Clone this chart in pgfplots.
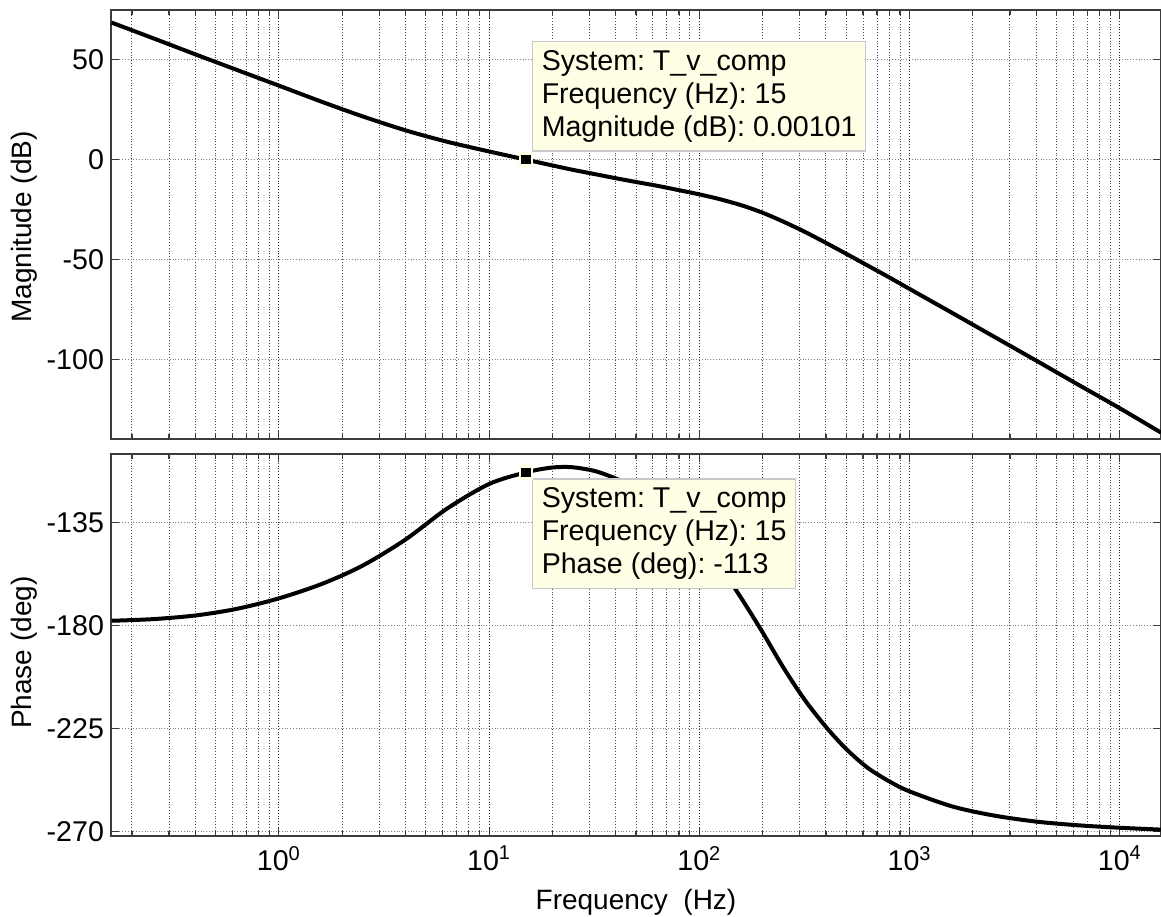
\documentclass[border=0pt]{standalone}
\usepackage{pgfplots}
\pgfplotsset{compat=1.18}
\usepackage{fontspec}
\setmainfont{Liberation Sans}
\frenchspacing

\definecolor{tipfill}{RGB}{255,255,229}
\definecolor{tipedge}{RGB}{200,200,200}
\definecolor{framegray}{RGB}{60,60,60}

% Bode data of T_v_comp: frequency (Hz) and magnitude (dB)
\pgfplotstableread{
f      mag
0.16   68.7
0.25   61.0
0.4    52.8
0.63   45.0
1      37.1
1.6    29.0
2.5    21.7
4      14.7
6.3    9.0
10     4.1
15     0.00101
20     -2.9
25     -5.1
32     -7.3
40     -9.3
50     -11.2
63     -13.1
80     -15.3
100    -17.4
125    -19.8
160    -23.0
200    -26.6
250    -31.0
315    -36.0
400    -41.7
500    -47.2
630    -53.0
800    -59.0
1000   -64.8
1600   -76.9
2500   -88.5
4000   -100.7
6300   -112.6
10000  -124.6
15700  -136.8
}\magdata

% frequency (Hz) and phase (deg)
\pgfplotstableread{
f      ph
0.16   -177.9
0.25   -177.2
0.4    -175.6
0.63   -172.7
1      -168.1
1.6    -161.8
2.5    -153.8
4      -142.4
6.3    -128.9
10     -118.1
15     -113.0
20     -110.9
25     -110.8
32     -112.5
40     -115.7
50     -119.7
63     -125.5
80     -133.3
100    -142.6
125    -153.9
160    -168.7
200    -183.0
250    -198.1
315    -212.1
400    -224.3
500    -234.0
630    -242.1
800    -248.1
1000   -252.5
1600   -259.1
2500   -263.0
4000   -265.7
6300   -267.3
10000  -268.4
15700  -269.2
}\phdata

\tikzset{
  datatip/.style={draw=tipedge, fill=tipfill, line width=0.6pt, align=left,
    inner xsep=4.5pt, inner ysep=4.5pt,
    font=\fontsize{14.3}{16.5}\selectfont},
}

\pgfplotsset{
  every major x grid/.style={densely dotted, black!85, line width=0.5pt},
  every minor x grid/.style={densely dotted, black!70, line width=0.45pt},
  every major y grid/.style={densely dotted, black!50, line width=0.5pt},
  every axis/.append style={
    axis line style={framegray, line width=0.75pt},
    tick style={framegray, line width=0.6pt},
    major tick length=4pt,
    minor tick length=2.5pt,
    tick label style={font=\fontsize{14.3}{16}\selectfont},
    label style={font=\fontsize{14}{16}\selectfont},
  },
}

\begin{document}
\begin{tikzpicture}
\path[use as bounding box] (0,0) rectangle (580.5pt,-458pt);

% magnitude
\begin{axis}[
  xmode=log,
  scale only axis,
  width=525pt, height=214.5pt,
  at={(55.5pt,-5pt)}, anchor=north west,
  xmin=0.159, xmax=15700,
  ymin=-140, ymax=75,
  xtick={1,10,100,1000,10000},
  minor xtick={0.2,0.3,0.4,0.5,0.6,0.7,0.8,0.9,
               2,3,4,5,6,7,8,9,
               20,30,40,50,60,70,80,90,
               200,300,400,500,600,700,800,900,
               2000,3000,4000,5000,6000,7000,8000,9000},
  xmajorgrids=true, xminorgrids=true, ymajorgrids=true,
  ytick={-100,-50,0,50},
  yticklabels={-100,-50,0,50},
  xticklabels={},
  ylabel={Magnitude (dB)},
  ylabel style={at={(axis description cs:-0.0829,0.494)}, anchor=center},
]
\addplot[black, line width=2pt, smooth] table[x=f, y=mag] {\magdata};
\addplot[only marks, mark=square*, mark size=3pt,
  mark options={fill=black, draw=tipfill, line width=1.3pt}] coordinates {(15,0.00101)};
\node[datatip, anchor=south west, xshift=3pt, yshift=4pt] at (axis cs:15,0.00101)
  {System: T\_v\_comp\\Frequency (Hz): 15\\Magnitude (dB): 0.00101};
\end{axis}

% phase
\begin{axis}[
  xmode=log,
  scale only axis,
  width=525pt, height=191pt,
  at={(55.5pt,-227pt)}, anchor=north west,
  xmin=0.159, xmax=15700,
  ymin=-272, ymax=-105,
  xtick={1,10,100,1000,10000},
  minor xtick={0.2,0.3,0.4,0.5,0.6,0.7,0.8,0.9,
               2,3,4,5,6,7,8,9,
               20,30,40,50,60,70,80,90,
               200,300,400,500,600,700,800,900,
               2000,3000,4000,5000,6000,7000,8000,9000},
  xmajorgrids=true, xminorgrids=true, ymajorgrids=true,
  ytick={-270,-225,-180,-135},
  yticklabels={-270,-225,-180,-135},
  xticklabels={10\textsuperscript{0},10\textsuperscript{1},10\textsuperscript{2},10\textsuperscript{3},10\textsuperscript{4}},
  xticklabel style={yshift=-1.5pt},
  xlabel={Frequency\ \ (Hz)},
  xlabel style={at={(axis description cs:0.5,0)}, anchor=center, yshift=-33pt},
  ylabel={Phase (deg)},
  ylabel style={at={(axis description cs:-0.0829,0.48)}, anchor=center},
]
\addplot[black, line width=2pt, smooth] table[x=f, y=ph] {\phdata};
\addplot[only marks, mark=square*, mark size=3pt,
  mark options={fill=black, draw=tipfill, line width=1.3pt}] coordinates {(15,-113)};
\node[datatip, anchor=north west, xshift=3pt, yshift=-3pt] at (axis cs:15,-113)
  {System: T\_v\_comp\\Frequency (Hz): 15\\Phase (deg): -113};
\end{axis}
\end{tikzpicture}
\end{document}
